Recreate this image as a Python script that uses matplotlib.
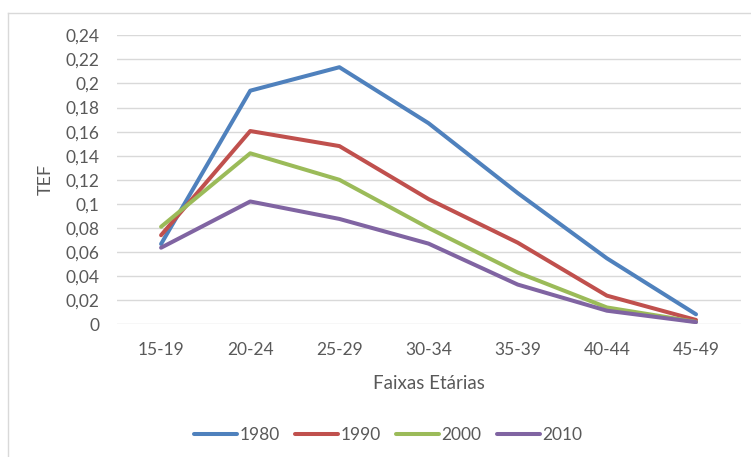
import matplotlib
matplotlib.use("Agg")
import matplotlib.pyplot as plt
from matplotlib.lines import Line2D
from matplotlib.ticker import FuncFormatter

categories = ["15-19", "20-24", "25-29", "30-34", "35-39", "40-44", "45-49"]
s1980 = [0.0667, 0.194, 0.2135, 0.167, 0.109, 0.0548, 0.0083]
s1990 = [0.074, 0.1605, 0.148, 0.104, 0.0678, 0.0238, 0.0036]
s2000 = [0.081, 0.142, 0.120, 0.080, 0.043, 0.014, 0.002]
s2010 = [0.0636, 0.102, 0.0875, 0.067, 0.033, 0.0113, 0.0018]
series_names = ["1980", "1990", "2000", "2010"]
colors = ["#4F81BD", "#C0504D", "#9BBB59", "#8064A2"]

plt.rcParams['font.family'] = ['Lato', 'DejaVu Sans']
txt = "#595959"

fig = plt.figure(figsize=(7.51, 4.57), dpi=100)
ax = fig.add_axes([116.5/751, 1-324.3/457, (740.6-116.5)/751, (324.3-35.3)/457])

x = list(range(len(categories)))
for name, vals, c in zip(series_names, [s1980, s1990, s2000, s2010], colors):
    ax.plot(x, vals, color=c, lw=2.9, label=name, solid_capstyle='round', solid_joinstyle='round')

ax.set_xlim(-0.5, len(categories)-0.5)
ax.set_ylim(0, 0.24)
ax.set_yticks([i*0.02 for i in range(13)])
ax.yaxis.set_major_formatter(FuncFormatter(lambda v, p: ("%g" % round(v, 2)).replace('.', ',')))
ax.set_xticks(x)
ax.set_xticklabels(categories)
ax.grid(axis='y', color='#D9D9D9', lw=1)
ax.set_axisbelow(True)
for s in ax.spines.values():
    s.set_visible(False)
ax.tick_params(length=0, colors=txt, labelsize=12.5)
ax.tick_params(axis='y', pad=12)
ax.tick_params(axis='x', pad=13)
ax.set_xlabel("Faixas Etárias", color=txt, fontsize=13.5, labelpad=12)
ax.set_ylabel("TEF", color=txt, fontsize=13, labelpad=9)

leg = fig.legend(loc='center', bbox_to_anchor=(388/751, 1-435/457), ncol=4, frameon=False,
                 fontsize=12.5, handlelength=2.5, handletextpad=0.1, columnspacing=0.9)
for t in leg.get_texts():
    t.set_color(txt)

fig.add_artist(Line2D([8/751, 8/751], [-0.1, 1-13/457], transform=fig.transFigure, color='#D9D9D9', lw=1))
fig.add_artist(Line2D([8/751, 1.1], [1-13/457, 1-13/457], transform=fig.transFigure, color='#D9D9D9', lw=1))

fig.savefig("out.png", dpi=100)
